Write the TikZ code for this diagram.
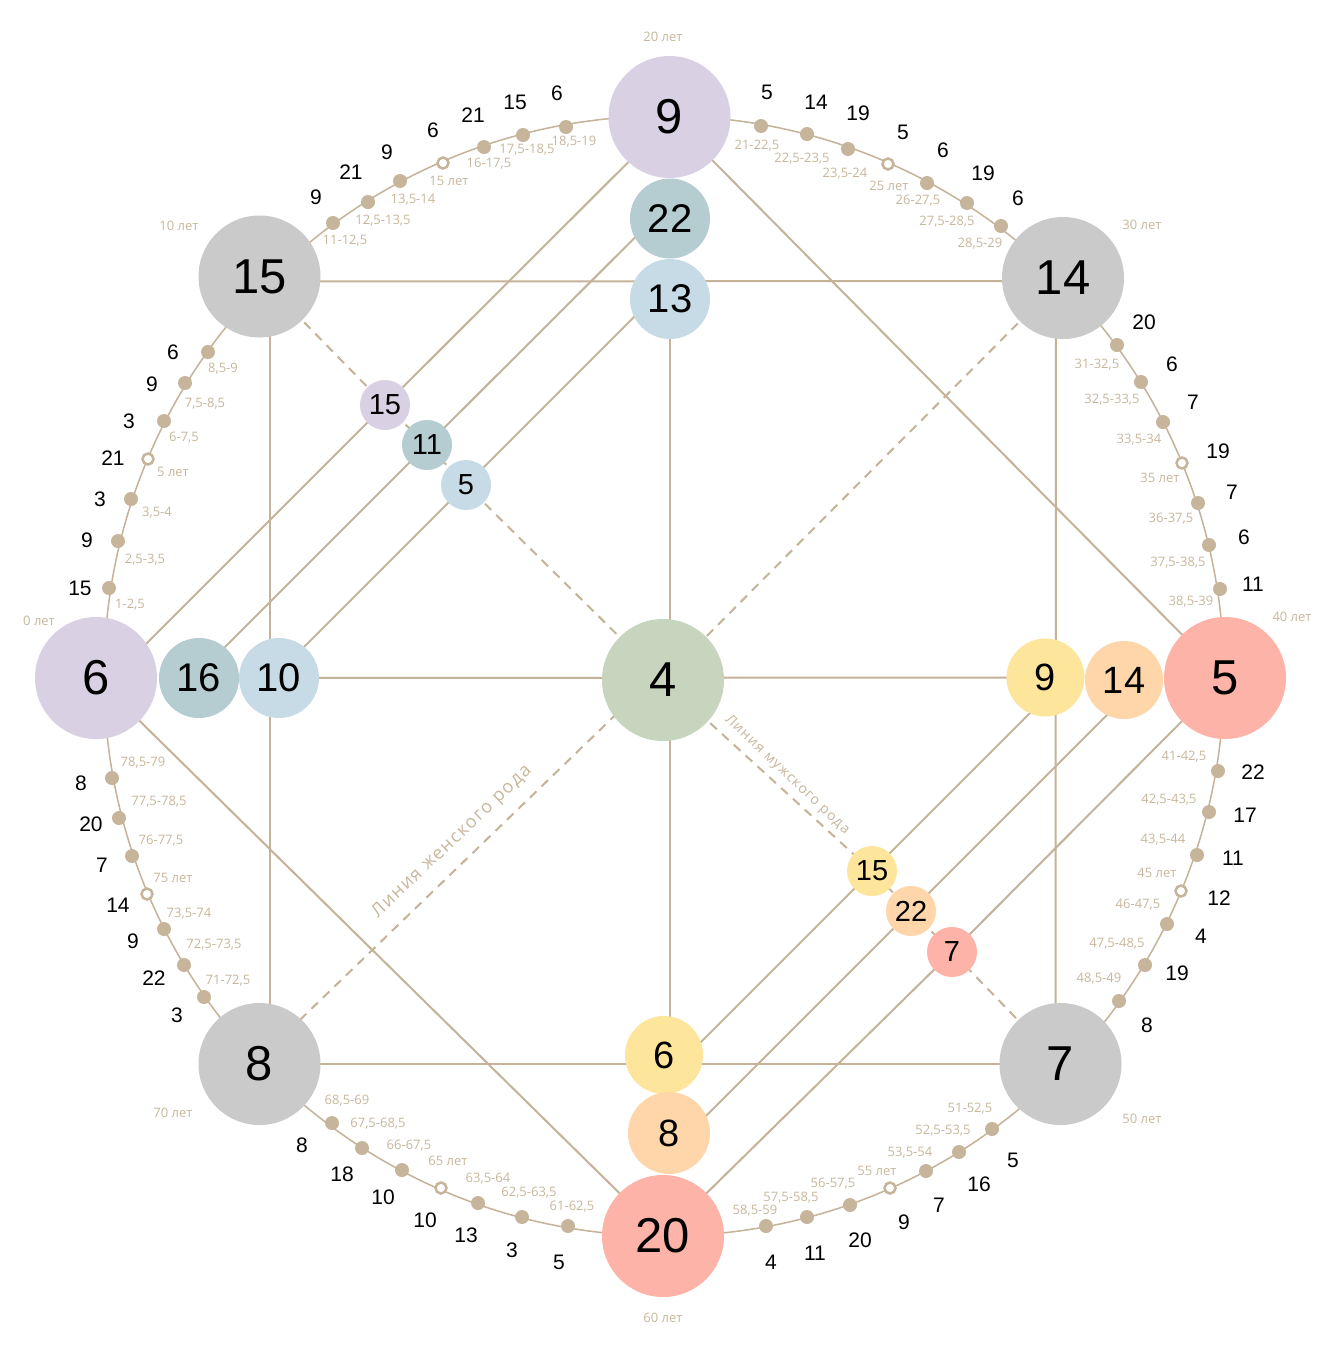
\documentclass[tikz,border=0pt]{standalone}
\usepackage{fontspec}
\setmainfont{Liberation Sans}
\newfontfamily\labfont{Open Sans}
\newfontfamily\linefont[LetterSpace=8]{Open Sans}
\usetikzlibrary{backgrounds}
\definecolor{linec}{HTML}{C4B398}
\definecolor{dotc}{HTML}{C6B59B}
\definecolor{labc}{HTML}{C8B79D}
\definecolor{cpurple}{HTML}{D9D0E4}
\definecolor{cgray}{HTML}{CACACA}
\definecolor{cgreen}{HTML}{C8D5BE}
\definecolor{csalmon}{HTML}{FDB3A7}
\definecolor{cteal}{HTML}{B5CCD1}
\definecolor{cblue}{HTML}{C7DBE6}
\definecolor{cyellow}{HTML}{FEE59C}
\definecolor{cpeach}{HTML}{FED6A9}
\tikzset{
  bignode/.style={circle, inner sep=0pt, minimum size=122pt, font=\fontsize{49}{49}\selectfont},
  midnode/.style={circle, inner sep=0pt, minimum size=80pt, font=\fontsize{40}{40}\selectfont},
  ynode/.style={circle, inner sep=0pt, minimum size=78pt, font=\fontsize{38}{38}\selectfont},
  smlnode/.style={circle, inner sep=0pt, minimum size=50pt, font=\fontsize{29}{29}\selectfont},
  fd/.style={circle, fill=dotc, inner sep=0pt, minimum size=14pt},
  od/.style={circle, fill=white, draw=dotc, line width=2.5pt, inner sep=0pt, minimum size=11pt},
  numlab/.style={inner sep=0pt, font=\fontsize{21}{21}\selectfont},
  agelab/.style={inner sep=0pt, text=labc, font=\labfont\fontsize{13}{13}\selectfont},
  linelab/.style={inner sep=0pt, text=labc},
  ln/.style={draw=linec, line width=2pt},
  dsh/.style={draw=linec, line width=2pt, dash pattern=on 9pt off 7pt},
  arcline/.style={draw=linec, line width=1.5pt}
}
\begin{document}
\begin{tikzpicture}[x=1pt,y=-1pt]
\useasboundingbox (0,0) rectangle (1323,1350);
% main nodes
\node[bignode, fill=cpurple] (n9) at (669.5,117) {9};
\node[bignode, fill=cgray] (n15) at (259.5,276.5) {15};
\node[bignode, fill=cgray] (n14) at (1063,278) {14};
\node[bignode, fill=cpurple] (n6) at (96,678) {6};
\node[bignode, fill=cgreen] (n4) at (663,680) {4};
\node[bignode, fill=csalmon] (n5) at (1225,678) {5};
\node[bignode, fill=cgray] (n8) at (259.5,1064) {8};
\node[bignode, fill=cgray] (n7) at (1060.5,1064) {7};
\node[bignode, fill=csalmon] (n20) at (663,1236) {20};
\node[midnode, fill=cteal] (n22) at (670,218.5) {22};
\node[midnode, fill=cblue] (n13) at (670,299) {13};
\node[midnode, fill=cteal] (n16) at (199,678) {16};
\node[midnode, fill=cblue] (n10) at (279,678) {10};
\node[ynode, fill=cyellow] (y9) at (1045.5,677.5) {9};
\node[ynode, fill=cpeach] (p14) at (1124,680) {14};
\node[ynode, fill=cyellow] (y6) at (664,1055) {6};
\node[ynode, fill=cpeach, minimum size=82pt] (p8) at (669,1133) {8};
\node[smlnode, fill=cpurple] (s15) at (385,405) {15};
\node[smlnode, fill=cteal] (s11) at (427,445) {11};
\node[smlnode, fill=cblue] (s5) at (466,485) {5};
\node[smlnode, fill=cyellow] (s15y) at (872,871) {15};
\node[smlnode, fill=cpeach] (s22) at (911,911) {22};
\node[smlnode, fill=csalmon] (s7) at (952,952) {7};
\coordinate (ctr) at (664,676);
% age labels of main nodes
\node[agelab] (a0) at (39,621) {0 лет};
\node[agelab] (a10) at (179,226) {10 лет};
\node[agelab] (a20) at (663,37) {20 лет};
\node[agelab] (a30) at (1142,225) {30 лет};
\node[agelab] (a40) at (1292,617) {40 лет};
\node[agelab] (a50) at (1142,1119) {50 лет};
\node[agelab] (a60) at (663,1318) {60 лет};
\node[agelab] (a70) at (173,1113) {70 лет};
% line labels
\node[linelab, rotate=43.5, font=\linefont\fontsize{18}{18}\selectfont] (fem) at (452,842) {Линия женского рода};
\node[linelab, rotate=-43.5, font=\linefont\fontsize{14}{14}\selectfont] (male) at (787,775) {Линия мужского рода};
% dots along the arc
\foreach \dx/\dy/\nx/\ny/\n/\lx/\ly/\lab/\st [count=\i] in {
109/588/80/588/15/130/605/{1-2,5}/fd,
118/541/87/540/9/145/560/{2,5-3,5}/fd,
131/499/100/499/3/157/513/{3,5-4}/fd,
148/459/113/458/21/173/472/{5 лет}/od,
164/421/129/421/3/184/438/{6-7,5}/fd,
185/383/152/384/9/205/404/{7,5-8,5}/fd,
208/352/173/352/6/223/369/{8,5-9}/fd,
333/223/316/197/9/345/241/{11-12,5}/fd,
368/202/351/172/21/383/221/{12,5-13,5}/fd,
400/181/387/152/9/413/200/{13,5-14}/fd,
443/163/433/130/6/449/181/{15 лет}/od,
484/147/473/115/21/489/164/{16-17,5}/fd,
523/135/515/102/15/527/150/{17,5-18,5}/fd,
566/127/557/93/6/574/142/{18,5-19}/fd,
761/126/767/92/5/757/146/{21-22,5}/fd,
807/134/816/102/14/802/159/{22,5-23,5}/fd,
848/149/858/113/19/845/174/{23,5-24}/fd,
888/164/903/132/5/889/186/{25 лет}/od,
927/183/943/150/6/918/201/{26-27,5}/fd,
967/203/983/173/19/947/222/{27,5-28,5}/fd,
1001/226/1018/198/6/980/244/{28,5-29}/fd,
1117/345/1144/322/20/1097/365/{31-32,5}/fd,
1141/382/1172/364/6/1112/400/{32,5-33,5}/fd,
1163/422/1193/402/7/1139/440/{33,5-34}/fd,
1182/463/1218/451/19/1160/478/{35 лет}/od,
1198/503/1232/492/7/1171/519/{36-37,5}/fd,
1209/545/1244/537/6/1178/563/{37,5-38,5}/fd,
1220/589/1253/584/11/1191/602/{38,5-39}/fd,
1218/771/1253/772/22/1184/757/{41-42,5}/fd,
1209/812/1245/815/17/1169/800/{42,5-43,5}/fd,
1197/855/1233/858/11/1163/840/{43,5-44}/fd,
1181/891/1219/898/12/1157/873/{45 лет}/od,
1167/924/1201/936/4/1138/905/{46-47,5}/fd,
1145/965/1177/973/19/1117/944/{47,5-48,5}/fd,
1119/1001/1147/1025/8/1099/979/{48,5-49}/fd,
992/1129/1013/1160/5/970/1109/{51-52,5}/fd,
959/1152/979/1184/16/943/1131/{52,5-53,5}/fd,
926/1171/939/1205/7/910/1153/{53,5-54}/fd,
890/1188/904/1222/9/877/1171/{55 лет}/od,
850/1205/860/1240/20/833/1184/{56-57,5}/fd,
807/1217/815/1253/11/791/1198/{57,5-58,5}/fd,
766/1226/771/1262/4/755/1211/{58,5-59}/fd,
568/1226/559/1262/5/572/1207/{61-62,5}/fd,
522/1217/512/1250/3/529/1193/{62,5-63,5}/fd,
478/1203/466/1235/13/488/1179/{63,5-64}/fd,
441/1188/425/1220/10/448/1161/{65 лет}/od,
402/1170/383/1197/10/409/1146/{66-67,5}/fd,
362/1148/342/1174/18/378/1124/{67,5-68,5}/fd,
332/1123/302/1145/8/347/1101/{68,5-69}/fd,
204/997/177/1015/3/228/981/{71-72,5}/fd,
184/965/154/978/22/214/945/{72,5-73,5}/fd,
164/929/133/941/9/189/914/{73,5-74}/fd,
147/894/118/905/14/173/878/{75 лет}/od,
132/856/102/865/7/161/841/{76-77,5}/fd,
119/818/91/824/20/159/802/{77,5-78,5}/fd,
112/778/81/783/8/143/763/{78,5-79}/fd}{
  \node[\st] (dot\i) at (\dx,\dy) {};
  \node[numlab] (num\i) at (\nx,\ny) {\n};
  \node[agelab] (lab\i) at (\lx,\ly) {\lab};
}
% connectors behind the nodes
\begin{scope}[on background layer]
\fill[white] (0,0) rectangle (1323,1350);
\draw[arcline] (ctr) circle[radius=560];
% square
\draw[ln] ([yshift=-5pt]n15.center) -- ([yshift=-3pt]n14.center);
\draw[ln] ([xshift=10.5pt]n15.center) -- ([xshift=10.5pt]n8.center);
\draw[ln] (n8.center) -- (n7.center);
\draw[ln] ([xshift=-7pt]n14.center) -- ([xshift=-5pt]n7.center);
% diamond
\draw[ln] ([shift={(2,2)}]n9.center) -- (s15.center) -- ([shift={(8,8)}]n6.center);
\draw[ln] (n6.center) -- (n20.center);
\draw[ln] (n20.center) -- (s7.center) -- (n5.center);
\draw[ln] (n5.center) -- (n9.center);
% parallels
\draw[ln] ([shift={(-8,-8)}]n22.center) -- (s11.center) -- ([shift={(-2.5,-2.5)}]n16.center);
\draw[ln] ([shift={(-9,-9)}]n13.center) -- (s5.center) -- ([shift={(-3,-3)}]n10.center);
\draw[ln] ([shift={(10,10)}]y9.center) -- (s15y.center) -- ([shift={(12,12)}]y6.center);
\draw[ln] ([shift={(9,9)}]p14.center) -- (s22.center) -- ([shift={(10,10)}]p8.center);
% cross
\draw[ln] (n10.center) -- (y9.center);
\draw[ln] (n13.center) -- (n13.center |- y6.center);
% dashed lines
\draw[dsh] (n15.center) -- (s15.center) -- (s11.center) -- (s5.center) -- (n4.center);
\draw[dsh] (n4.center) -- (s15y.center) -- (s22.center) -- (s7.center) -- (n7.center);
\draw[dsh] (n14.center) -- (n4.center);
\draw[dsh] ([yshift=11pt]n4.center) -- ([yshift=5pt]n8.center);
\end{scope}
\end{tikzpicture}
\end{document}
